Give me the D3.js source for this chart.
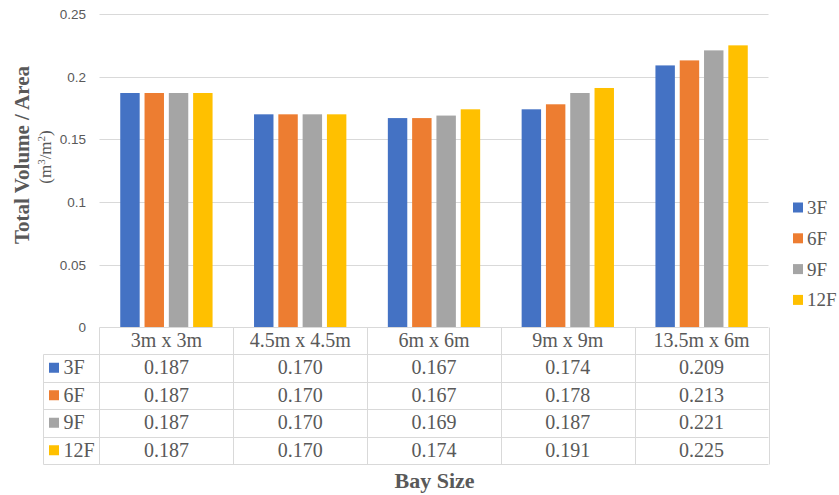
<!DOCTYPE html>
<html>
<head>
<meta charset="utf-8">
<script src="https://cdn.jsdelivr.net/npm/d3@7"></script>
<style>
  html, body { margin: 0; padding: 0; background: #fff; }
  svg { display: block; }
</style>
</head>
<body>
<svg id="chart" width="839" height="495"></svg>
<script>
// Bay sizes (categories) and number of floors (series)
const categories = ["3m x 3m", "4.5m x 4.5m", "6m x 6m", "9m x 9m", "13.5m x 6m"];
const seriesNames = ["3F", "6F", "9F", "12F"];
const values3F  = [0.187, 0.170, 0.167, 0.174, 0.209];
const values6F  = [0.187, 0.170, 0.167, 0.178, 0.213];
const values9F  = [0.187, 0.170, 0.169, 0.187, 0.221];
const values12F = [0.187, 0.170, 0.174, 0.191, 0.225];
const yTicks = [0, 0.05, 0.1, 0.15, 0.2, 0.25];
const colors = ["#4472C4", "#ED7D31", "#A5A5A5", "#FFC000"];

const seriesValues = [values3F, values6F, values9F, values12F];
const series = seriesNames.map((name, i) => ({ name, values: seriesValues[i], color: colors[i] }));

const svg = d3.select("#chart");
const textColor = "#595959";
const gridColor = "#D9D9D9";
const serif = "'Liberation Serif', 'Times New Roman', serif";
const sans = "'Liberation Sans', Arial, sans-serif";

const plot = { left: 99.5, right: 768.5, top: 14, bottom: 327.5 };

const x0 = d3.scaleBand()
  .domain(categories)
  .range([plot.left, plot.right])
  .paddingInner(0.31)
  .paddingOuter(0.155);

const x1 = d3.scaleBand()
  .domain(seriesNames)
  .range([0, x0.bandwidth()])
  .paddingInner(0.2);

const y = d3.scaleLinear()
  .domain([0, 0.25])
  .range([plot.bottom, plot.top]);

// Horizontal gridlines
svg.append("g")
  .selectAll("line")
  .data(yTicks.filter(t => t > 0))
  .join("line")
  .attr("x1", plot.left)
  .attr("x2", plot.right)
  .attr("y1", d => Math.round(y(d)) + 0.5)
  .attr("y2", d => Math.round(y(d)) + 0.5)
  .attr("stroke", gridColor)
  .attr("stroke-width", 1);

// Y axis tick labels
const yAxis = d3.axisLeft(y).tickValues(yTicks).tickSize(0).tickPadding(0)
  .tickFormat(d => d === 0 ? "0" : String(d));
const yAxisG = svg.append("g")
  .attr("transform", `translate(${86},0)`)
  .call(yAxis);
yAxisG.select(".domain").remove();
yAxisG.selectAll("text")
  .attr("fill", textColor)
  .style("font-family", sans)
  .style("font-size", "13.5px");

// Bars
const groups = svg.append("g")
  .selectAll("g")
  .data(categories)
  .join("g")
  .attr("transform", d => `translate(${x0(d)},0)`);

groups.selectAll("rect")
  .data((c, ci) => series.map(s => ({ name: s.name, value: s.values[ci], color: s.color })))
  .join("rect")
  .attr("x", d => x1(d.name))
  .attr("width", x1.bandwidth())
  .attr("y", d => y(d.value))
  .attr("height", d => y(0) - y(d.value))
  .attr("fill", d => d.color);

// Data table under the plot
const rowTop = plot.bottom;
const headerH = 26.5;
const rowH = 27.5;
const tableLeft = 43.5;
const rowY = i => rowTop + headerH + i * rowH;
const tableBottom = rowY(series.length);

const table = svg.append("g");

// Horizontal rules
table.append("line")
  .attr("x1", plot.left).attr("x2", plot.right)
  .attr("y1", rowTop).attr("y2", rowTop)
  .attr("stroke", gridColor);
for (let i = 0; i <= series.length; i++) {
  table.append("line")
    .attr("x1", tableLeft).attr("x2", plot.right)
    .attr("y1", Math.round(rowY(i)) + 0.5).attr("y2", Math.round(rowY(i)) + 0.5)
    .attr("stroke", gridColor);
}
// Vertical rules
const colEdges = categories.map(c => x0(c) - x0.step() * x0.paddingInner() / 2);
colEdges.push(plot.right);
colEdges.forEach(xe => {
  table.append("line")
    .attr("x1", Math.round(xe) + 0.5).attr("x2", Math.round(xe) + 0.5)
    .attr("y1", rowTop).attr("y2", Math.round(tableBottom) + 0.5)
    .attr("stroke", gridColor);
});
table.append("line")
  .attr("x1", tableLeft).attr("x2", tableLeft)
  .attr("y1", Math.round(rowY(0)) + 0.5).attr("y2", Math.round(tableBottom) + 0.5)
  .attr("stroke", gridColor);

// Category header row
table.selectAll("text.cat")
  .data(categories)
  .join("text")
  .attr("class", "cat")
  .attr("x", d => x0(d) + x0.bandwidth() / 2)
  .attr("y", rowTop + 19.5)
  .attr("text-anchor", "middle")
  .attr("fill", textColor)
  .style("font-family", serif)
  .style("font-size", "20px")
  .text(d => d);

// Series rows: legend key + values
series.forEach((s, i) => {
  const yMid = rowY(i) + rowH / 2;
  table.append("rect")
    .attr("x", 49).attr("y", yMid - 5)
    .attr("width", 10).attr("height", 10)
    .attr("fill", s.color);
  table.append("text")
    .attr("x", 63.5).attr("y", yMid + 6.5)
    .attr("fill", textColor)
    .style("font-family", serif)
    .style("font-size", "20px")
    .text(s.name);
  table.selectAll(null)
    .data(s.values)
    .join("text")
    .attr("x", (v, ci) => x0(categories[ci]) + x0.bandwidth() / 2)
    .attr("y", yMid + 6.5)
    .attr("text-anchor", "middle")
    .attr("fill", textColor)
    .style("font-family", serif)
    .style("font-size", "20px")
    .text(v => v.toFixed(3));
});

// Legend on the right
const legend = svg.append("g");
series.forEach((s, i) => {
  const cy = 207.5 + i * 30.8;
  legend.append("rect")
    .attr("x", 793).attr("y", cy - 5)
    .attr("width", 10).attr("height", 10)
    .attr("fill", s.color);
  legend.append("text")
    .attr("x", 807).attr("y", cy + 6.5)
    .attr("fill", textColor)
    .style("font-family", serif)
    .style("font-size", "19px")
    .text(s.name);
});

// Axis titles
svg.append("text")
  .attr("transform", "translate(29,155) rotate(-90)")
  .attr("text-anchor", "middle")
  .attr("fill", textColor)
  .style("font-family", serif)
  .style("font-weight", "bold")
  .style("font-size", "21px")
  .text("Total Volume / Area");

const unit = svg.append("text")
  .attr("transform", "translate(51,157) rotate(-90)")
  .attr("text-anchor", "middle")
  .attr("fill", textColor)
  .style("font-family", serif)
  .style("font-size", "17px");
unit.append("tspan").text("(m");
unit.append("tspan").attr("dy", -6).style("font-size", "11px").text("3");
unit.append("tspan").attr("dy", 6).text("/m");
unit.append("tspan").attr("dy", -6).style("font-size", "11px").text("2");
unit.append("tspan").attr("dy", 6).text(")");

svg.append("text")
  .attr("x", 434.5)
  .attr("y", 488)
  .attr("text-anchor", "middle")
  .attr("fill", textColor)
  .style("font-family", serif)
  .style("font-weight", "bold")
  .style("font-size", "22px")
  .text("Bay Size");
</script>
</body>
</html>
